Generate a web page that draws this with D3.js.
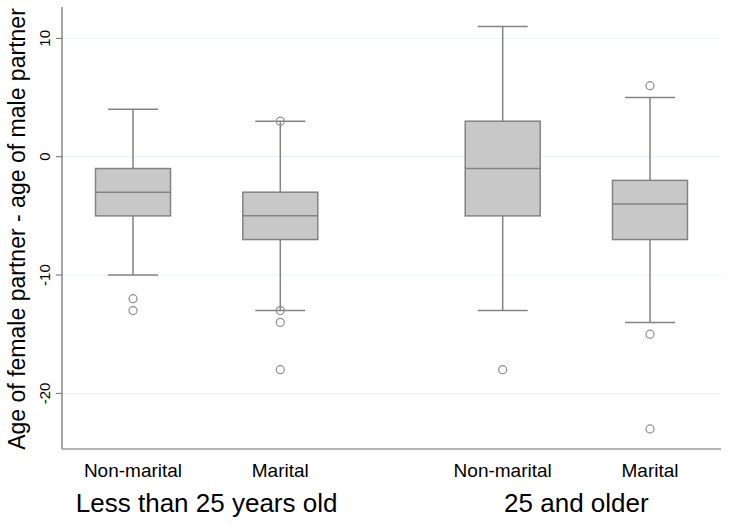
<!DOCTYPE html>
<html>
<head>
<meta charset="utf-8">
<script src="https://cdn.jsdelivr.net/npm/d3@7"></script>
<style>
  body { margin: 0; background: #fff; }
  text { font-family: "Liberation Sans", Arial, sans-serif; fill: #000; }
</style>
</head>
<body>
<svg id="chart" width="729" height="525"></svg>
<script>
// box plot values
var groups = ["Less than 25 years old", "25 and older"];
var categories = ["Non-marital", "Marital", "Non-marital", "Marital"];
var groupOf = [0, 0, 1, 1];
var whiskerHigh = [4, 3, 11, 5];
var q3 = [-1, -3, 3, -2];
var median = [-3, -5, -1, -4];
var q1 = [-5, -7, -5, -7];
var whiskerLow = [-10, -13, -13, -14];
var outliers = [[-12, -13], [3, -13, -14, -18], [-18], [6, -15, -23]];
var yTicks = [-20, -10, 0, 10];

var svg = d3.select("#chart");
var m = { left: 62, right: 721, top: 7, bottom: 449 };

var y = d3.scaleLinear().domain([-24.7, 12.65]).range([m.bottom, m.top]);
// positions along x: two groups with a wider gap between them
var x = d3.scaleLinear().domain([0, 3.51]).range([133, 650]);
var xPos = [0, 1, 2.51, 3.51];

var boxW = 75, capW = 50;
var stroke = "#838383";

// gridlines
svg.append("g").selectAll("line")
    .data(yTicks)
    .enter()
    .append("line")
    .attr("x1", m.left)
    .attr("x2", m.right)
    .attr("y1", d => y(d))
    .attr("y2", d => y(d))
    .style("stroke", "#e8f1f2")
    .style("stroke-width", 1);

// boxes
var box = svg.append("g").selectAll("g")
    .data(categories)
    .enter()
    .append("g");

box.append("line")
    .attr("x1", (d, i) => x(xPos[i]))
    .attr("x2", (d, i) => x(xPos[i]))
    .attr("y1", (d, i) => y(whiskerHigh[i]))
    .attr("y2", (d, i) => y(whiskerLow[i]))
    .style("stroke", stroke)
    .style("stroke-width", 1.5);

box.append("line")
    .attr("x1", (d, i) => x(xPos[i]) - capW / 2)
    .attr("x2", (d, i) => x(xPos[i]) + capW / 2)
    .attr("y1", (d, i) => y(whiskerHigh[i]))
    .attr("y2", (d, i) => y(whiskerHigh[i]))
    .style("stroke", stroke)
    .style("stroke-width", 1.5);

box.append("line")
    .attr("x1", (d, i) => x(xPos[i]) - capW / 2)
    .attr("x2", (d, i) => x(xPos[i]) + capW / 2)
    .attr("y1", (d, i) => y(whiskerLow[i]))
    .attr("y2", (d, i) => y(whiskerLow[i]))
    .style("stroke", stroke)
    .style("stroke-width", 1.5);

box.append("rect")
    .attr("x", (d, i) => x(xPos[i]) - boxW / 2)
    .attr("width", boxW)
    .attr("y", (d, i) => y(q3[i]))
    .attr("height", (d, i) => y(q1[i]) - y(q3[i]))
    .style("fill", "#c8c8c8")
    .style("stroke", stroke)
    .style("stroke-width", 1.5);

box.append("line")
    .attr("x1", (d, i) => x(xPos[i]) - boxW / 2)
    .attr("x2", (d, i) => x(xPos[i]) + boxW / 2)
    .attr("y1", (d, i) => y(median[i]))
    .attr("y2", (d, i) => y(median[i]))
    .style("stroke", stroke)
    .style("stroke-width", 1.5);

box.selectAll("circle")
    .data((d, i) => outliers[i].map(v => ({ v: v, i: i })))
    .enter()
    .append("circle")
    .attr("cx", d => x(xPos[d.i]))
    .attr("cy", d => y(d.v))
    .attr("r", 4)
    .style("fill", "none")
    .style("stroke", "#8e8e8e")
    .style("stroke-width", 1.2);

// axes
svg.append("line")
    .attr("x1", m.left).attr("x2", m.left)
    .attr("y1", m.top).attr("y2", m.bottom)
    .style("stroke", "#6a6a6a").style("stroke-width", 1.2);

svg.append("line")
    .attr("x1", m.left).attr("x2", m.right)
    .attr("y1", m.bottom).attr("y2", m.bottom)
    .style("stroke", "#6a6a6a").style("stroke-width", 1.2);

svg.append("g").selectAll("line")
    .data(yTicks)
    .enter()
    .append("line")
    .attr("x1", m.left - 6)
    .attr("x2", m.left)
    .attr("y1", d => y(d))
    .attr("y2", d => y(d))
    .style("stroke", "#6a6a6a");

svg.append("g").selectAll("text")
    .data(yTicks)
    .enter()
    .append("text")
    .attr("transform", d => "translate(50," + y(d) + ") rotate(-90)")
    .attr("text-anchor", "middle")
    .style("font-size", "15px")
    .text(d => d);

var title = svg.append("text")
    .attr("transform", "translate(25,229) rotate(-90)")
    .attr("text-anchor", "middle")
    .style("font-size", "20px")
    .text("Age of female partner - age of male partner");
// fit title to the span it has in the picture
var len = title.node().getComputedTextLength();
title.style("font-size", (20 * 442 / len) + "px");

// category labels
svg.append("g").selectAll("text")
    .data(categories)
    .enter()
    .append("text")
    .attr("x", (d, i) => x(xPos[i]))
    .attr("y", 477)
    .attr("text-anchor", "middle")
    .style("font-size", "19px")
    .text(d => d);

svg.append("g").selectAll("text")
    .data(groups)
    .enter()
    .append("text")
    .attr("x", (d, g) => {
        var idx = xPos.filter((p, i) => groupOf[i] === g);
        return x(d3.mean(idx));
    })
    .attr("y", 512)
    .attr("text-anchor", "middle")
    .style("font-size", "26px")
    .text(d => d);
</script>
</body>
</html>
